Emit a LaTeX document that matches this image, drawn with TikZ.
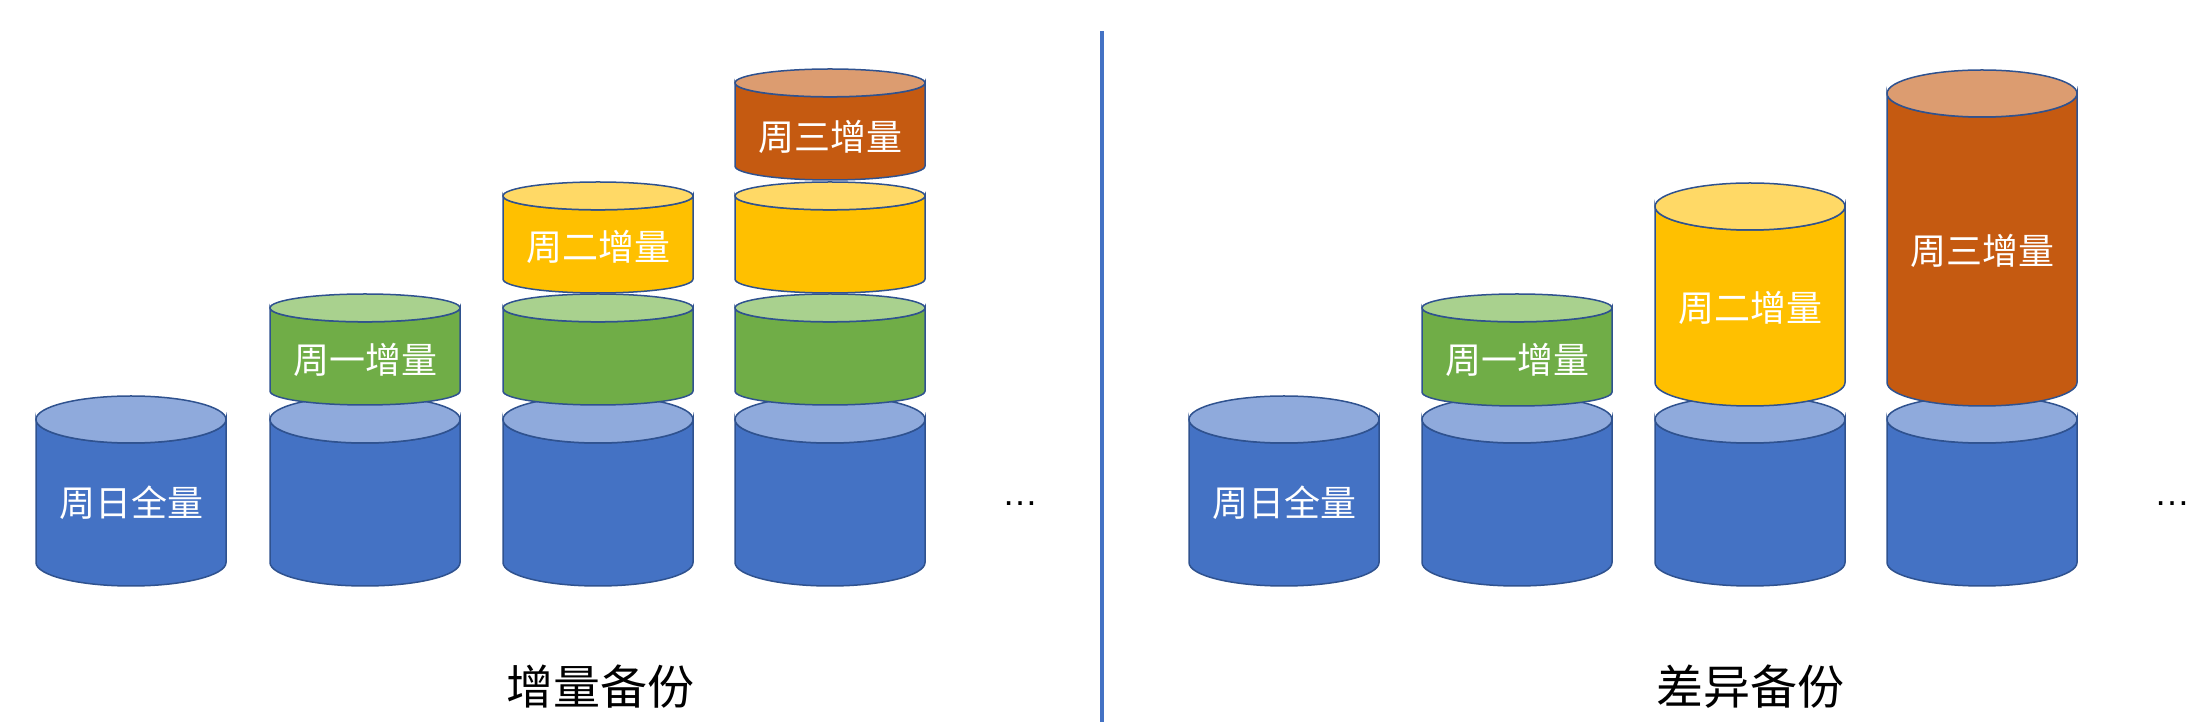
\documentclass[tikz,border=0pt]{standalone}
\usepackage{fontspec}
\setmainfont{Liberation Sans}
\newfontfamily\cjk{Noto Sans CJK SC}
\usetikzlibrary{positioning}
\definecolor{rim}{HTML}{2F528F}
\definecolor{bluebody}{HTML}{4472C4}
\definecolor{bluetop}{HTML}{8FAADC}
\definecolor{greenbody}{HTML}{70AD47}
\definecolor{greentop}{HTML}{A9D18E}
\definecolor{yellowbody}{HTML}{FFC000}
\definecolor{yellowtop}{HTML}{FFD966}
\definecolor{orangebody}{HTML}{C55A11}
\definecolor{orangetop}{HTML}{DC9C70}
\tikzset{font=\cjk}
\tikzset{drumlabel/.style={text=white,font=\cjk\fontsize{36}{40}\selectfont}}
\tikzset{caption/.style={font=\cjk\fontsize{47}{52}\selectfont}}
\tikzset{more/.style={anchor=base,font=\rmfamily\fontsize{36}{40}\selectfont}}

% #1 x centre, #2 top, #3 bottom, #4 end radius, #5 colour
\newcommand{\drum}[5]{%
  \filldraw[draw=rim,line width=1.5pt,fill=#5body]
    (#1-95,#2-#4) -- (#1-95,#3+#4)
    arc[start angle=180,end angle=360,x radius=95,y radius=#4]
    -- (#1+95,#2-#4)
    arc[start angle=0,end angle=-180,x radius=95,y radius=#4] -- cycle;
  \filldraw[draw=rim,line width=1.5pt,fill=#5top]
    (#1,#2-#4) ellipse[x radius=95,y radius=#4];
}

\begin{document}
\begin{tikzpicture}[x=1pt,y=1pt]
  \useasboundingbox (0,0) rectangle (2212,728);
  % incremental backup
  \foreach \x in {131,365,598,830}{
    \drum{\x}{332}{142}{23.5}{blue}
  };
  \foreach \x in {365,598,830}{
    \drum{\x}{434}{323}{13.9}{green}
  };
  \foreach \x in {598,830}{
    \drum{\x}{546}{435}{13.9}{yellow}
  };
  \drum{830}{659}{548}{13.9}{orange}
  \node[drumlabel] (sunA) at (131,225) {周日全量};
  \node[drumlabel] (monA) at (365,368) {周一增量};
  \node[drumlabel] (tueA) at (598,481) {周二增量};
  \node[drumlabel] (wedA) at (830,591) {周三增量};
  \node[more] (moreA) at (1020,222) {…};
  \node[caption] (incr) at (600,41) {增量备份};
  % divider
  \coordinate (divlow) at (1102,6);
  \coordinate (divhigh) at (1102,697);
  \draw[bluebody,line width=4pt] (divlow) -- (divhigh);
  % differential backup
  \foreach \x in {1284,1517,1750,1982}{
    \drum{\x}{332}{142}{23.5}{blue}
  };
  \drum{1517}{434}{322}{13.9}{green}
  \drum{1750}{545}{322}{23.5}{yellow}
  \drum{1982}{658}{322}{23.5}{orange}
  \node[drumlabel] (sunB) at (1284,225) {周日全量};
  \node[drumlabel] (monB) at (1517,368) {周一增量};
  \node[drumlabel] (tueB) at (1750,420) {周二增量};
  \node[drumlabel] (wedB) at (1982,477) {周三增量};
  \node[more] (moreB) at (2172,222) {…};
  \node[caption] (diff) at (1750,41) {差异备份};
\end{tikzpicture}
\end{document}
